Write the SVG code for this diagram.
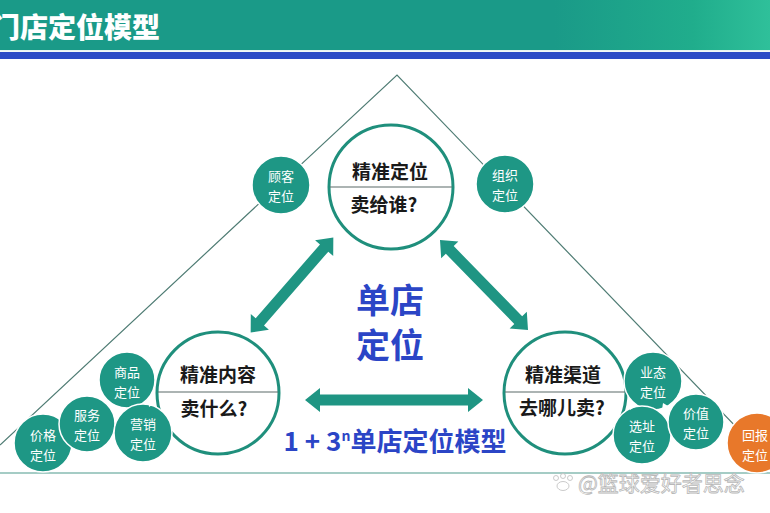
<svg xmlns="http://www.w3.org/2000/svg" width="770" height="513" viewBox="0 0 770 513">
<defs>
<linearGradient id="hdr" x1="0" y1="0" x2="1" y2="0">
<stop offset="0" stop-color="#1a9a88"/>
<stop offset="0.72" stop-color="#1a9a88"/>
<stop offset="0.9" stop-color="#20ad8c"/>
<stop offset="1" stop-color="#2fc09a"/>
</linearGradient>
<style>
.big{fill:#fff;stroke:#1f8f7c;stroke-width:3}
.div{stroke:#5b6b68;stroke-width:1.2}
.bt{font-family:"Noto Sans CJK SC","Noto Sans",sans-serif;font-weight:700;font-size:19px;fill:#1a1a1a;text-anchor:middle}
.sm{fill:#1e9785;stroke:#fff;stroke-width:1.5}
.st{font-family:"Noto Sans CJK SC","Noto Sans",sans-serif;font-size:13px;fill:#fff;text-anchor:middle}
.arr{fill:#1f9583}
.blue{font-family:"Noto Sans CJK SC","Noto Sans",sans-serif;font-weight:700;fill:#2b45c6;text-anchor:middle}
.tri{fill:#fff}
</style>
</defs>
<rect width="770" height="513" fill="#fff"/>
<g id="header">
<rect x="0" y="0" width="770" height="50" fill="url(#hdr)"/>
<rect x="0" y="50" width="770" height="1.5" fill="#e8f4f0"/>
<rect x="0" y="52" width="770" height="7" fill="#2c4cc6"/>
<text x="-8" y="38" font-family="Noto Sans CJK SC,sans-serif" font-weight="900" font-size="28" fill="#fff">门店定位模型</text>
</g>
<g id="frame" fill="none" stroke="#4f7c74" stroke-width="1.2">
<polyline points="0,445 397,75 770,462"/>
<line x1="0" y1="473" x2="770" y2="473" stroke="#4d9a8c"/>
</g>
<g id="connectors">
<polygon class="arr" transform="translate(292,285) rotate(-49)" points="-63,0 -49,-12 -49,-5.5 49,-5.5 49,-12 63,0 49,12 49,5.5 -49,5.5 -49,12"/>
<polygon class="arr" transform="translate(484,285) rotate(45.7)" points="-63,0 -49,-12 -49,-5.5 49,-5.5 49,-12 63,0 49,12 49,5.5 -49,5.5 -49,12"/>
<polygon class="arr" transform="translate(394,400)" points="-89,0 -74,-12 -74,-5.5 74,-5.5 74,-12 89,0 74,12 74,5.5 -74,5.5 -74,12"/>
</g>
<g id="n-top">
<circle class="big" cx="391" cy="187" r="62"/>
<line class="div" x1="330" y1="187" x2="452" y2="187"/>
<text class="bt" x="390" y="179">精准定位</text>
<text class="bt" x="384" y="212">卖给谁?</text>
</g>
<g id="n-left">
<circle class="big" cx="218" cy="393" r="61"/>
<line class="div" x1="158" y1="392" x2="278" y2="392"/>
<text class="bt" x="218" y="382">精准内容</text>
<text class="bt" x="214" y="416">卖什么?</text>
</g>
<g id="n-right">
<circle class="big" cx="565" cy="393" r="61"/>
<line class="div" x1="505" y1="392" x2="625" y2="392"/>
<text class="bt" x="563" y="382">精准渠道</text>
<text class="bt" x="562" y="415">去哪儿卖?</text>
</g>
<g id="n-gukedingwei">
<circle class="sm" cx="281" cy="185" r="29"/>
<text class="st" x="281" y="181">顾客</text><text class="st" x="281" y="201">定位</text>
</g>
<g id="n-zuzhidingwei">
<circle class="sm" cx="505" cy="184" r="29"/>
<text class="st" x="505" y="180">组织</text><text class="st" x="505" y="200">定位</text>
</g>
<g id="n-jiage">
<circle class="sm" cx="43" cy="443" r="29"/>
<text class="st" x="43" y="440">价格</text><text class="st" x="43" y="460">定位</text>
</g>
<g id="n-fuwu">
<circle class="sm" cx="87" cy="424" r="28"/>
<text class="st" x="87" y="420">服务</text><text class="st" x="87" y="440">定位</text>
</g>
<g id="n-shangpin">
<circle class="sm" cx="127" cy="380" r="28"/>
<text class="st" x="127" y="377">商品</text><text class="st" x="127" y="397">定位</text>
</g>
<g id="n-yingxiao">
<circle class="sm" cx="143" cy="433" r="29"/>
<text class="st" x="143" y="429">营销</text><text class="st" x="143" y="449">定位</text>
</g>
<g id="n-yetai">
<circle class="sm" cx="653" cy="381" r="29"/>
<text class="st" x="653" y="377">业态</text><text class="st" x="653" y="397">定位</text>
</g>
<g id="n-xuanzhi">
<circle class="sm" cx="642" cy="435" r="29"/>
<text class="st" x="642" y="431">选址</text><text class="st" x="642" y="451">定位</text>
</g>
<g id="n-jiazhi">
<circle class="sm" cx="696" cy="422" r="28"/>
<text class="st" x="696" y="418">价值</text><text class="st" x="696" y="438">定位</text>
</g>
<g id="n-huibao">
<circle cx="757" cy="443" r="30" fill="#e8782a" stroke="#fff" stroke-width="1.5"/>
<text class="st" x="755" y="440">回报</text><text class="st" x="755" y="460">定位</text>
</g>
<g id="hints">
<polygon class="tri" points="112,408 121,410 117,417"/>
<polygon class="tri" points="148,398 155,403 149,407"/>
<polygon class="tri" points="628,402 636,406 630,410"/>
<polygon class="tri" points="668,406 662,410 663,403"/>
</g>
<g id="center">
<text class="blue" x="390" y="313" font-size="34">单店</text>
<text class="blue" x="390" y="358" font-size="34">定位</text>
<text class="blue" x="395" y="451" font-size="26">1 + 3<tspan font-size="14" dy="-10">n</tspan><tspan dy="10">单店定位模型</tspan></text>
</g>
<g id="watermark">
<g fill="#fff" stroke="#bdbdbd" stroke-width="0.8">
<circle cx="556" cy="478" r="2.5"/><circle cx="563" cy="476" r="2.5"/><circle cx="570" cy="478" r="2.5"/>
<ellipse cx="563" cy="486" rx="6" ry="4.5"/>
</g>
<text x="578" y="491" font-family="Noto Sans CJK SC,sans-serif" font-size="21" fill="#fff" stroke="#b8b8b8" stroke-width="0.8">@篮球爱好者思念</text>
</g>
</svg>
